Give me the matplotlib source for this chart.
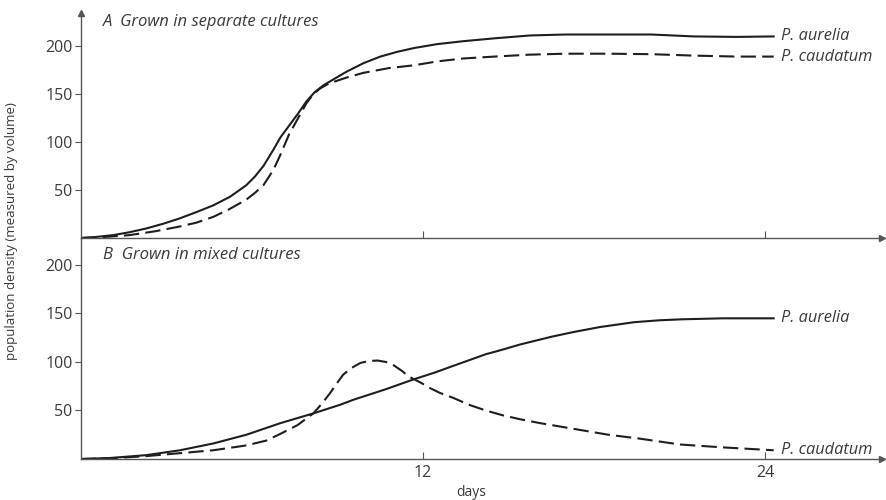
import matplotlib.pyplot as plt

plt.rcParams['font.family'] = ['Open Sans', 'DejaVu Sans']
plt.rcParams['lines.scale_dashes'] = False

# A: separate cultures
sep_aur_days = [0, 0.5, 1.13, 1.7, 2.3, 2.9, 3.47, 4.05, 4.64, 5.23, 5.8, 6.1, 6.4,
                6.75, 7.0, 7.3, 7.6, 7.9, 8.2, 8.5, 8.9, 9.3, 9.9, 10.5, 11.1, 11.7,
                12.5, 13.4, 14.5, 15.75, 17.0, 18.5, 20.0, 21.5, 23.0, 24.3]
sep_aur_vals = [0, 1, 3, 6, 10, 15, 20.5, 27, 34, 43, 55, 64, 75,
                92, 105, 117, 129, 142, 152, 159, 166, 173, 182, 189, 194, 198,
                202, 205, 208, 211, 212, 212, 212, 210, 209.5, 210]
sep_cau_days = [0, 0.8, 1.7, 2.6, 3.47, 4.05, 4.64, 5.2, 5.8, 6.1, 6.4, 6.75, 7.0,
                7.3, 7.6, 7.9, 8.15, 8.4, 8.7, 9.3, 9.9, 10.8, 11.7, 12.5, 13.4, 14.5,
                15.75, 17.0, 18.5, 20.0, 21.5, 23.0, 24.3]
sep_cau_vals = [0, 1, 3, 7, 12, 16, 22, 30, 40, 47, 55, 71, 87,
                108, 124, 140, 150, 156, 161, 167, 172, 177, 180, 184, 187, 189,
                191, 192, 192, 191.5, 190, 189, 189]

# B: mixed cultures
mix_aur_days = [0, 1.0, 2.3, 3.47, 4.64, 5.8, 7.0, 8.15, 9.1, 9.55, 10.7, 11.66,
                12.4, 13.06, 14.2, 14.7, 15.4, 16.5, 17.3, 18.2, 19.4, 20.3, 21.1,
                22.5, 24.3]
mix_aur_vals = [0, 1, 4, 9, 16, 25, 37, 47, 56, 61, 72, 82,
                89, 96, 108, 112, 118, 126, 131, 136, 141, 143, 144,
                145, 145]
mix_cau_days = [0, 1.2, 2.3, 3.47, 4.64, 5.8, 6.5, 7.0, 7.6, 8.15, 8.45, 8.74, 9.0,
                9.2, 9.5, 9.8, 10.1, 10.4, 10.7, 10.95, 11.25, 11.5, 11.9, 12.25,
                12.6, 13.06, 13.6, 14.2, 14.8, 15.4, 16.1, 17.5, 18.5, 19.6, 21.0,
                22.5, 24.3]
mix_cau_vals = [0, 1, 3, 6, 9, 14, 19, 26, 35, 47, 57, 68, 79,
                87, 94, 99, 101, 101.5, 100, 97, 91, 85, 79, 73,
                68, 63, 56, 50, 45, 41, 37, 30, 25, 21, 15,
                12, 9]

names = ['P. aurelia', 'P. caudatum']
panel_titles = ['A  Grown in separate cultures', 'B  Grown in mixed cultures']
y_ticks = [50, 100, 150, 200]
x_ticks = [12, 24]

ink = '#1e1e1e'
text_c = '#3a3a3a'
axis_c = '#555555'

fig = plt.figure(figsize=(8.86, 5.0), dpi=100)
fig.patch.set_facecolor('white')

left, width = 81 / 886, 801 / 886
ax_a = fig.add_axes([left, 1 - 238 / 500, width, 225 / 500])
ax_b = fig.add_axes([left, 1 - 459 / 500, width, 221 / 500])

panels = [
    (ax_a, (sep_aur_days, sep_aur_vals), (sep_cau_days, sep_cau_vals), 234.4),
    (ax_b, (mix_aur_days, mix_aur_vals), (mix_cau_days, mix_cau_vals), 227.8),
]

for (ax, aur, cau, ytop), title in zip(panels, panel_titles):
    ax.plot(aur[0], aur[1], color=ink, lw=1.5, solid_joinstyle='round')
    ax.plot(cau[0], cau[1], color=ink, lw=1.5, linestyle=(0, (11, 4.5)))
    for (dx, vy), name in zip([aur, cau], names):
        ax.annotate(name, (dx[-1], vy[-1]), xytext=(5, 0), textcoords='offset points',
                    va='center', ha='left', fontsize=11.8, style='italic', color=text_c)

    ax.set_xlim(0, 28.1)
    ax.set_ylim(0, ytop)
    ax.set_facecolor('none')
    for s in ['top', 'right']:
        ax.spines[s].set_visible(False)
    for s in ['left', 'bottom']:
        ax.spines[s].set_color(axis_c)
        ax.spines[s].set_linewidth(1.0)

    ax.set_yticks(y_ticks)
    ax.tick_params(axis='y', direction='out', length=4, width=0.8, color=axis_c,
                   labelsize=11.5, labelcolor=text_c, pad=2)
    ax.set_xticks(x_ticks)
    ax.tick_params(axis='x', direction='in', length=5, width=0.8, color=axis_c,
                   labelsize=11.5, labelcolor=text_c, pad=4)

    ax.text(0.028, 0.995 if ax is ax_a else 0.96, title, transform=ax.transAxes,
            fontsize=12, style='italic', color=text_c, va='top', ha='left')

    # arrow head on the x axis
    ax.plot([1.0], [0.0], marker='>', markersize=5, color=axis_c,
            transform=ax.transAxes, clip_on=False)

ax_a.tick_params(axis='x', labelbottom=False)
ax_a.plot([0.0], [1.0], marker='^', markersize=5, color=axis_c,
          transform=ax_a.transAxes, clip_on=False)

fig.text(12 / 886, 1 - 231 / 500, 'population density (measured by volume)',
         rotation=90, va='center', ha='center', fontsize=9.5, color=text_c)
fig.text(471 / 886, 1 - 492 / 500, 'days', va='center', ha='center',
         fontsize=10, color=text_c)

fig.savefig('out.png', dpi=100, facecolor='white')
